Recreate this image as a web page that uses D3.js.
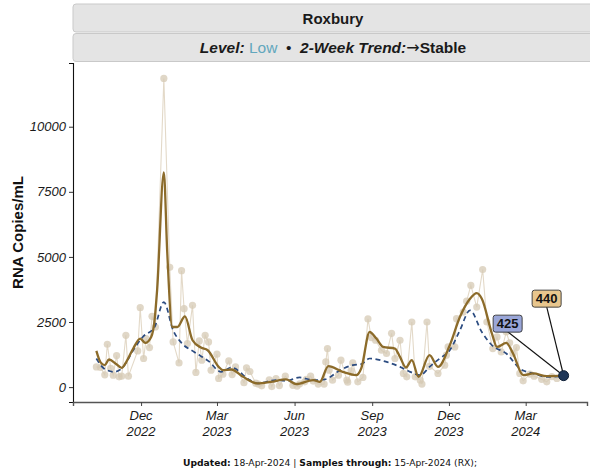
<!DOCTYPE html>
<html lang="en">
<head>
<meta charset="UTF-8">
<title>Roxbury</title>
<style>
  body { margin: 0; background: #fff; }
</style>
</head>
<body>
<script src="https://d3js.org/d3.v7.min.js"></script>
<script>
  // chart size
  let width = 590;
  let height = 469;
  let margin = { top: 63, right: 3, bottom: 67, left: 73 };

  // data: raw samples
  let sampleDates = ['2022-10-09','2022-10-14','2022-10-19','2022-10-22','2022-10-26','2022-10-29','2022-11-02','2022-11-05','2022-11-08','2022-11-13','2022-11-16','2022-11-27','2022-11-30','2022-12-04','2022-12-07','2022-12-11','2022-12-14','2022-12-18','2022-12-28','2023-01-04','2023-01-08','2023-01-15','2023-01-18','2023-01-21','2023-01-25','2023-01-31','2023-02-04','2023-02-08','2023-02-11','2023-02-15','2023-02-19','2023-02-22','2023-03-01','2023-03-03','2023-03-08','2023-03-15','2023-03-19','2023-03-23','2023-04-02','2023-04-05','2023-04-09','2023-04-16','2023-04-19','2023-04-23','2023-05-02','2023-05-05','2023-05-10','2023-05-14','2023-05-21','2023-05-30','2023-06-04','2023-06-07','2023-06-13','2023-06-15','2023-06-20','2023-06-23','2023-06-29','2023-07-06','2023-07-08','2023-07-10','2023-07-12','2023-07-16','2023-07-23','2023-07-26','2023-08-02','2023-08-03','2023-08-07','2023-08-09','2023-08-15','2023-08-21','2023-08-27','2023-08-31','2023-09-05','2023-09-12','2023-09-18','2023-09-24','2023-09-28','2023-10-04','2023-10-08','2023-10-12','2023-10-18','2023-10-22','2023-10-28','2023-10-30','2023-11-05','2023-11-08','2023-11-18','2023-11-26','2023-11-28','2023-11-30','2023-12-08','2023-12-10','2023-12-18','2023-12-22','2023-12-27','2024-01-03','2024-01-10','2024-01-15','2024-01-22','2024-01-27','2024-02-01','2024-02-07','2024-02-11','2024-02-15','2024-02-19','2024-02-23','2024-02-27','2024-03-06','2024-03-11','2024-03-20','2024-03-26','2024-04-01','2024-04-07','2024-04-15'];
  let sampleValues = [777,754,471,1646,716,459,1213,394,421,1990,421,1390,3051,1099,1864,1520,2718,2308,11855,4600,1734,930,4470,3012,1673,3139,563,1773,1034,1990,1734,651,1263,333,498,1007,480,777,170,740,600,150,115,50,280,20,330,60,421,70,40,130,203,295,421,230,115,115,969,1481,651,268,459,1034,268,191,624,930,203,371,2620,1903,1800,1416,1290,2065,1099,1799,524,394,2500,394,268,115,2500,800,524,842,1225,1543,1543,2630,2883,3300,3905,3074,4517,2500,1481,1926,1350,2117,1700,1290,1520,524,241,500,420,300,203,400,330,440];

  // data: smoothed trend (solid)
  let smoothDates = ['2022-10-09','2022-10-14','2022-10-19','2022-10-24','2022-11-01','2022-11-08','2022-11-14','2022-11-22','2022-11-30','2022-12-06','2022-12-13','2022-12-17','2022-12-20','2022-12-28','2023-01-01','2023-01-07','2023-01-13','2023-01-22','2023-01-31','2023-02-10','2023-02-18','2023-03-03','2023-03-08','2023-03-18','2023-04-01','2023-04-18','2023-05-04','2023-05-22','2023-06-03','2023-06-23','2023-07-01','2023-07-11','2023-07-28','2023-08-13','2023-08-19','2023-08-29','2023-09-06','2023-09-14','2023-09-28','2023-10-04','2023-10-11','2023-10-18','2023-10-26','2023-11-08','2023-11-18','2023-12-02','2023-12-14','2023-12-26','2024-01-03','2024-01-09','2024-01-21','2024-01-27','2024-02-07','2024-02-15','2024-02-27','2024-03-10','2024-03-26','2024-04-15'];
  let smoothValues = [1390,950,842,1060,900,739,1000,1500,1864,1696,1926,2565,3713,8242,5200,2308,2308,2718,1799,1520,1416,777,651,677,394,142,203,295,115,268,203,804,586,459,716,2117,1864,1543,1481,1160,754,1034,394,1225,777,1608,2691,3395,3610,3395,2053,1543,1696,1290,459,524,421,440];

  // data: longer-term average (dashed)
  let avgDates = ['2022-10-09','2022-10-18','2022-10-30','2022-11-08','2022-11-23','2022-12-03','2022-12-17','2022-12-28','2023-01-08','2023-01-18','2023-02-02','2023-02-19','2023-03-06','2023-03-18','2023-04-09','2023-04-18','2023-05-10','2023-05-22','2023-06-07','2023-06-23','2023-07-07','2023-07-25','2023-08-09','2023-08-19','2023-08-29','2023-09-18','2023-10-04','2023-10-16','2023-10-28','2023-11-08','2023-11-20','2023-12-02','2023-12-14','2023-12-26','2024-01-09','2024-01-21','2024-02-07','2024-02-23','2024-03-10','2024-03-26','2024-04-15'];
  let avgValues = [1099,716,586,716,1481,1926,2308,3265,2182,1696,1351,1000,586,754,268,142,268,241,371,268,300,651,842,880,1099,969,777,586,459,777,1099,1416,2182,2948,2117,1608,1290,716,524,394,425];

  // tick labels
  let yTicks = [0, 2500, 5000, 7500, 10000];
  let xTickDates = ['2022-12-01','2023-03-01','2023-06-01','2023-09-01','2023-12-01','2024-03-01'];
  let xTickLabels = [['Dec','2022'],['Mar','2023'],['Jun','2023'],['Sep','2023'],['Dec','2023'],['Mar','2024']];

  let parse = d3.timeParse('%Y-%m-%d');
  let samples = sampleDates.map(function(d, i){ return [parse(d), sampleValues[i]]; });
  let smooth = smoothDates.map(function(d, i){ return [parse(d), smoothValues[i]]; });
  let avg = avgDates.map(function(d, i){ return [parse(d), avgValues[i]]; });
  let last = samples[samples.length - 1];
  let lastSmooth = smooth[smooth.length - 1];
  let lastAvg = avg[avg.length - 1];

  // ggplot-like 5% expansion
  let xExt = d3.extent(samples, function(d){ return d[0]; });
  let xPad = (xExt[1] - xExt[0]) * 0.05;
  let yExt = d3.extent(samples, function(d){ return d[1]; });
  let yPad = (yExt[1] - yExt[0]) * 0.05;

  let xScale = d3.scaleTime()
      .domain([new Date(+xExt[0] - xPad), new Date(+xExt[1] + xPad)])
      .range([margin.left, width - margin.right]);
  let yScale = d3.scaleLinear()
      .domain([yExt[0] - yPad, yExt[1] + yPad])
      .range([height - margin.bottom, margin.top]);

  let svg = d3.select('body')
      .append('svg')
      .attr('width', width)
      .attr('height', height)
      .style('font-family', '"Liberation Sans", Arial, sans-serif');

  // strips
  let stripX = margin.left;
  let stripW = width - margin.right - margin.left + 6;
  svg.append('rect')
      .attr('x', stripX).attr('y', 4).attr('width', stripW).attr('height', 28)
      .attr('rx', 3).attr('fill', '#e4e4e4').attr('stroke', '#c9c9c9');
  svg.append('rect')
      .attr('x', stripX).attr('y', 33.5).attr('width', stripW).attr('height', 28)
      .attr('rx', 3).attr('fill', '#e4e4e4').attr('stroke', '#c9c9c9');

  let cx = (margin.left + width - margin.right) / 2 + 3;
  svg.append('text')
      .attr('x', cx).attr('y', 23.5)
      .attr('text-anchor', 'middle')
      .attr('font-size', '15px').attr('font-weight', 'bold').attr('fill', '#1a1a1a')
      .text('Roxbury');

  let sub = svg.append('text')
      .attr('x', cx).attr('y', 53)
      .attr('text-anchor', 'middle')
      .attr('font-size', '15.5px').attr('fill', '#1a1a1a');
  sub.append('tspan').attr('font-weight', 'bold').attr('font-style', 'italic').text('Level:\u00a0');
  sub.append('tspan').attr('fill', '#62a7bd').text('Low');
  sub.append('tspan').text('\u00a0\u00a0\u2022\u00a0\u00a0');
  sub.append('tspan').attr('font-weight', 'bold').attr('font-style', 'italic').text('2-Week Trend:');
  sub.append('tspan').attr('font-family', '"DejaVu Sans", sans-serif').attr('font-size', '16px').text('\u2192');
  sub.append('tspan').attr('font-weight', 'bold').text('Stable');

  // raw samples
  let rawLine = d3.line()
      .x(function(d){ return xScale(d[0]); })
      .y(function(d){ return yScale(d[1]); });

  svg.append('path')
      .attr('d', rawLine(samples))
      .attr('fill', 'none')
      .attr('stroke', '#e3d9c8')
      .attr('stroke-width', 1.1);

  svg.append('g')
      .selectAll('circle')
      .data(samples)
      .enter()
      .append('circle')
      .attr('cx', function(d){ return xScale(d[0]); })
      .attr('cy', function(d){ return yScale(d[1]); })
      .attr('r', 3.6)
      .attr('fill', '#d6cab4')
      .attr('fill-opacity', 0.75);

  let curveLine = d3.line()
      .curve(d3.curveMonotoneX)
      .x(function(d){ return xScale(d[0]); })
      .y(function(d){ return yScale(d[1]); });

  svg.append('path')
      .attr('d', curveLine(avg))
      .attr('fill', 'none')
      .attr('stroke', '#2b4b80')
      .attr('stroke-width', 1.7)
      .attr('stroke-dasharray', '5,3.5');

  svg.append('path')
      .attr('d', curveLine(smooth))
      .attr('fill', 'none')
      .attr('stroke', '#8c6b2a')
      .attr('stroke-width', 2.3);

  // axes
  let yAxis = d3.axisLeft(yScale).tickValues(yTicks).tickSize(4).tickPadding(3)
      .tickFormat(d3.format('d'));
  let gy = svg.append('g')
      .attr('transform', 'translate(' + margin.left + ',0)')
      .call(yAxis);
  gy.select('.domain').attr('stroke', '#111').attr('stroke-width', 1.1);
  gy.selectAll('.tick line').attr('stroke', '#333');
  gy.selectAll('.tick text')
      .attr('font-size', '13px').attr('font-style', 'italic').attr('fill', '#1a1a1a')
      .attr('font-family', '"Liberation Sans", Arial, sans-serif');

  let xAxis = d3.axisBottom(xScale)
      .tickValues(xTickDates.map(parse))
      .tickSize(4)
      .tickFormat('');
  let gx = svg.append('g')
      .attr('transform', 'translate(0,' + (height - margin.bottom) + ')')
      .call(xAxis);
  gx.select('.domain').attr('stroke', '#555').attr('stroke-width', 1.4);
  gx.selectAll('.tick line').attr('stroke', '#444');

  let xl = svg.append('g')
      .selectAll('text')
      .data(xTickDates)
      .enter()
      .append('text')
      .attr('x', function(d){ return xScale(parse(d)); })
      .attr('y', height - margin.bottom + 18)
      .attr('text-anchor', 'middle')
      .attr('font-size', '13px').attr('font-style', 'italic').attr('fill', '#1a1a1a');
  xl.append('tspan').text(function(d, i){ return xTickLabels[i][0]; });
  xl.append('tspan')
      .attr('x', function(d){ return xScale(parse(d)); })
      .attr('dy', 16)
      .text(function(d, i){ return xTickLabels[i][1]; });

  svg.append('text')
      .attr('transform', 'translate(23,' + ((margin.top + height - margin.bottom) / 2) + ') rotate(-90)')
      .attr('text-anchor', 'middle')
      .attr('font-size', '15px').attr('font-weight', 'bold').attr('fill', '#111')
      .text('RNA Copies/mL');

  // end labels
  let px = xScale(last[0]), py = yScale(last[1]);
  let labels = [
    { v: lastAvg[1], dx: -56, dy: -52, fill: '#9aa6d8' },
    { v: lastSmooth[1], dx: -17, dy: -77, fill: '#e8c68d' }
  ];
  labels.forEach(function(l){
    let lx = px + l.dx, ly = py + l.dy;
    svg.append('line')
        .attr('x1', lx).attr('y1', ly + 8)
        .attr('x2', px).attr('y2', py)
        .attr('stroke', '#111').attr('stroke-width', 1.2);
    svg.append('rect')
        .attr('x', lx - 14.5).attr('y', ly - 8.5)
        .attr('width', 29).attr('height', 17)
        .attr('rx', 2.5)
        .attr('fill', l.fill).attr('stroke', '#333').attr('stroke-width', 0.9);
    svg.append('text')
        .attr('x', lx).attr('y', ly + 4.5)
        .attr('text-anchor', 'middle')
        .attr('font-size', '13px').attr('font-weight', 'bold').attr('fill', '#111')
        .text(l.v);
  });

  svg.append('circle')
      .attr('cx', px).attr('cy', py)
      .attr('r', 5)
      .attr('fill', '#1d3557')
      .attr('stroke', '#0f1f36');

  // footer
  let foot = svg.append('text')
      .attr('x', (margin.left + width - margin.right) / 2)
      .attr('y', 465.5)
      .attr('text-anchor', 'middle')
      .attr('font-family', '"DejaVu Sans", sans-serif')
      .attr('font-size', '9.2px').attr('fill', '#111');
  foot.append('tspan').attr('font-weight', 'bold').text('Updated:');
  foot.append('tspan').text(' 18-Apr-2024 | ');
  foot.append('tspan').attr('font-weight', 'bold').text('Samples through:');
  foot.append('tspan').text(' 15-Apr-2024 (RX);');
</script>
</body>
</html>
